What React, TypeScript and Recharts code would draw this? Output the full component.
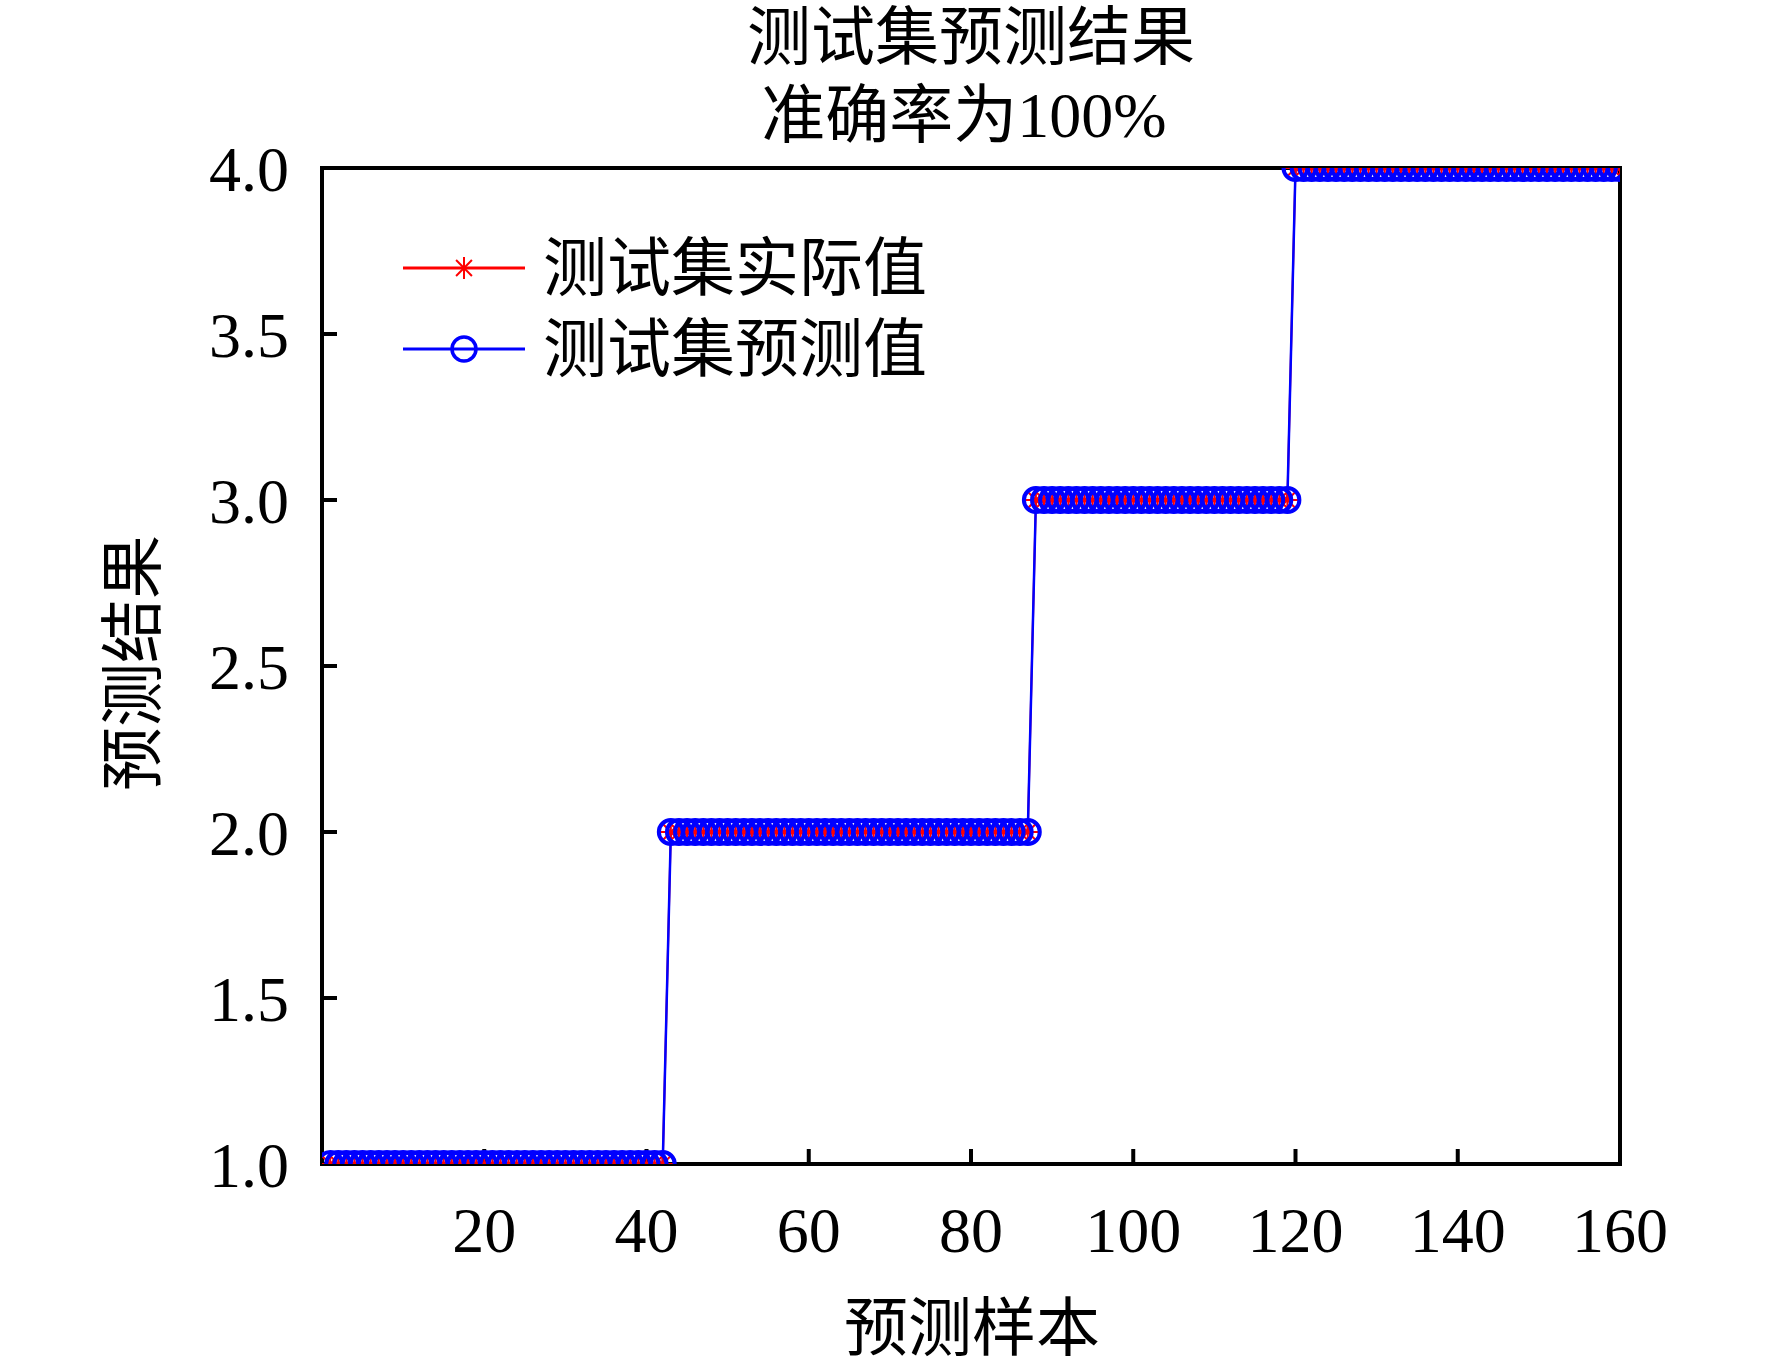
import { LineChart, Line, XAxis, YAxis, Legend } from "recharts";

// 测试集实际类别 (sample 1..160)
const actualValues = [
  1, 1, 1, 1, 1, 1, 1, 1, 1, 1, 1, 1, 1, 1, 1, 1, 1, 1, 1, 1,
  1, 1, 1, 1, 1, 1, 1, 1, 1, 1, 1, 1, 1, 1, 1, 1, 1, 1, 1, 1,
  1, 1, 2, 2, 2, 2, 2, 2, 2, 2, 2, 2, 2, 2, 2, 2, 2, 2, 2, 2,
  2, 2, 2, 2, 2, 2, 2, 2, 2, 2, 2, 2, 2, 2, 2, 2, 2, 2, 2, 2,
  2, 2, 2, 2, 2, 2, 2, 3, 3, 3, 3, 3, 3, 3, 3, 3, 3, 3, 3, 3,
  3, 3, 3, 3, 3, 3, 3, 3, 3, 3, 3, 3, 3, 3, 3, 3, 3, 3, 3, 4,
  4, 4, 4, 4, 4, 4, 4, 4, 4, 4, 4, 4, 4, 4, 4, 4, 4, 4, 4, 4,
  4, 4, 4, 4, 4, 4, 4, 4, 4, 4, 4, 4, 4, 4, 4, 4, 4, 4, 4, 4,
];
// accuracy is 100%, so the predictions equal the actual labels
const predictedValues = actualValues.slice();

const xTicks = [20, 40, 60, 80, 100, 120, 140, 160];
const yTicks = [1, 1.5, 2, 2.5, 3, 3.5, 4];

const titleLines = ["测试集预测结果", "准确率为100%"];
const xLabel = "预测样本";
const yLabel = "预测结果";
const seriesNames = { actual: "测试集实际值", predicted: "测试集预测值" };

const data = actualValues.map((v, i) => ({
  sample: i + 1,
  actual: v,
  predicted: predictedValues[i],
}));

const FONT = "'Liberation Serif', 'Times New Roman', 'Noto Sans CJK SC', serif";
const RED = "#ff0000";
const BLUE = "#0000ff";
const axisLine = { stroke: "#000", strokeWidth: 4, strokeLinecap: "square" as const };
const tickLine = { stroke: "#000", strokeWidth: 4 };

const Asterisk = ({ cx, cy, s = 11 }: { cx: number; cy: number; s?: number }) => {
  const d = s * 0.72;
  return (
    <g stroke={RED} strokeWidth={2}>
      <line x1={cx - s} y1={cy} x2={cx + s} y2={cy} />
      <line x1={cx} y1={cy - s} x2={cx} y2={cy + s} />
      <line x1={cx - d} y1={cy - d} x2={cx + d} y2={cy + d} />
      <line x1={cx - d} y1={cy + d} x2={cx + d} y2={cy - d} />
    </g>
  );
};

const renderStar = (props: any) => {
  const { cx, cy, index } = props;
  if (cx == null || cy == null) return <g key={`s-${index}`} />;
  return <Asterisk key={`s-${index}`} cx={cx} cy={cy} />;
};

const renderLegend = () => (
  <svg width={720} height={170}>
    <g>
      <line x1={23} y1={48} x2={145} y2={48} stroke={RED} strokeWidth={3} />
      <Asterisk cx={84} cy={48} />
      <text x={163} y={48} dominantBaseline="central" fontSize={64} fontFamily={FONT} fill="#000">
        {seriesNames.actual}
      </text>
    </g>
    <g>
      <line x1={23} y1={129} x2={145} y2={129} stroke={BLUE} strokeWidth={3} />
      <circle cx={84} cy={129} r={12} fill="none" stroke={BLUE} strokeWidth={3.5} />
      <text x={163} y={129} dominantBaseline="central" fontSize={64} fontFamily={FONT} fill="#000">
        {seriesNames.predicted}
      </text>
    </g>
  </svg>
);

export default function App() {
  return (
    <div style={{ position: "absolute", left: 0, top: 0, width: 1772, height: 1371, background: "#fff" }}>
      <LineChart
        width={1772}
        height={1371}
        data={data}
        margin={{ top: 167, right: 151, bottom: 206, left: 321 }}
      >
        <XAxis
          dataKey="sample"
          type="number"
          domain={[0, 160]}
          allowDataOverflow
          ticks={xTicks}
          height={1}
          axisLine={axisLine}
          tickLine={tickLine}
          tickSize={-15}
          tickMargin={58}
          tick={{ fill: "#000", fontSize: 64, fontFamily: FONT }}
        />
        <XAxis
          xAxisId="top"
          orientation="top"
          type="number"
          domain={[0, 160]}
          allowDataOverflow
          ticks={xTicks}
          height={1}
          axisLine={axisLine}
          tickLine={tickLine}
          tickSize={-15}
          tick={false}
        />
        <YAxis
          type="number"
          domain={[1, 4]}
          allowDataOverflow
          ticks={yTicks}
          width={1}
          axisLine={axisLine}
          tickLine={tickLine}
          tickSize={-15}
          tickMargin={48}
          tickFormatter={(v: number) => v.toFixed(1)}
          tick={{ fill: "#000", fontSize: 64, fontFamily: FONT }}
        />
        <YAxis
          yAxisId="right"
          orientation="right"
          type="number"
          domain={[1, 4]}
          allowDataOverflow
          ticks={yTicks}
          width={1}
          axisLine={axisLine}
          tickLine={tickLine}
          tickSize={-15}
          tick={false}
        />
        <Line
          type="linear"
          dataKey="actual"
          name={seriesNames.actual}
          stroke={RED}
          strokeWidth={2}
          dot={renderStar}
          isAnimationActive={false}
        />
        <Line
          type="linear"
          dataKey="predicted"
          name={seriesNames.predicted}
          stroke={BLUE}
          strokeWidth={2.5}
          dot={{ r: 12, fill: "none", stroke: BLUE, strokeWidth: 4 }}
          isAnimationActive={false}
        />
        <Legend
          layout="horizontal"
          verticalAlign="middle"
          align="center"
          content={renderLegend}
          wrapperStyle={{ left: 380, top: 220, width: 720, height: 170 }}
        />
        <text x={971} y={37} textAnchor="middle" dominantBaseline="central" fontSize={64} fontFamily={FONT} fill="#000">
          {titleLines[0]}
        </text>
        <text x={964} y={115} textAnchor="middle" dominantBaseline="central" fontSize={64} fontFamily={FONT} fill="#000">
          {titleLines[1]}
        </text>
        <text x={972} y={1328} textAnchor="middle" dominantBaseline="central" fontSize={64} fontFamily={FONT} fill="#000">
          {xLabel}
        </text>
        <text
          x={133}
          y={663}
          transform="rotate(-90 133 663)"
          textAnchor="middle"
          dominantBaseline="central"
          fontSize={64}
          fontFamily={FONT}
          fill="#000"
        >
          {yLabel}
        </text>
      </LineChart>
    </div>
  );
}
